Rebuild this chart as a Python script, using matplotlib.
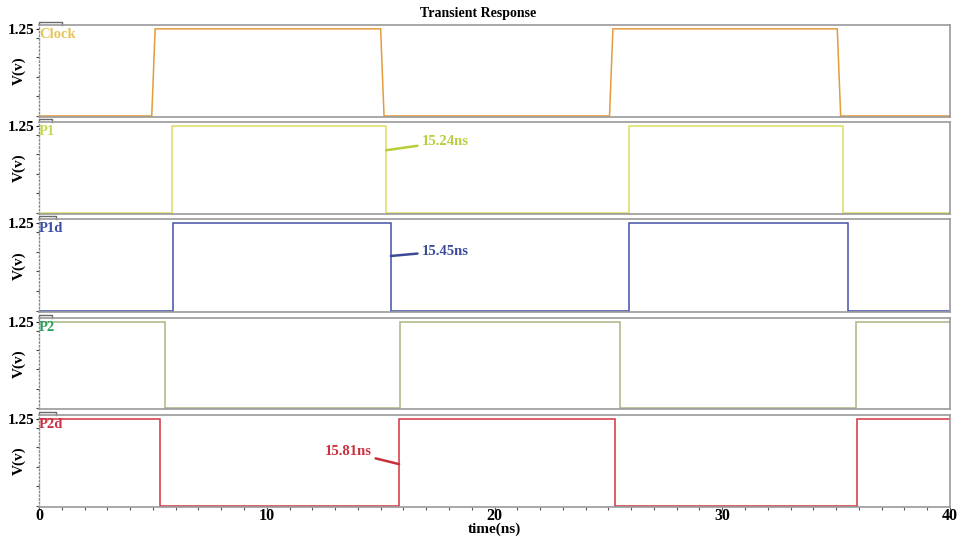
import numpy as np
import matplotlib
matplotlib.use("Agg")
import matplotlib.pyplot as plt
from matplotlib.lines import Line2D
from matplotlib.ticker import MultipleLocator, FixedLocator, NullLocator

plt.rcParams['font.family'] = ['Liberation Serif', 'DejaVu Serif']
plt.rcParams['font.weight'] = 'bold'

# ---- waveform data (time in ns, voltage in V) ----
VDD = 1.25
clock_t = [0, 4.95, 5.1, 15.0, 15.15, 25.05, 25.2, 35.05, 35.2, 40]
clock_v = [0, 0, VDD, VDD, 0, 0, VDD, VDD, 0, 0]

p1_edges = [5.86, 15.24, 25.9, 35.3]
p1d_edges = [5.88, 15.45, 25.92, 35.5]
p2_edges = [5.53, 15.84, 25.51, 35.86]
p2d_edges = [5.31, 15.81, 25.28, 35.9]

signal_names = ["Clock", "P1", "P1d", "P2", "P2d"]
start_levels = [0, 0, 0, VDD, VDD]

# measured delays shown next to the falling/rising edges
marker_times = [15.24, 15.45, 15.81]
marker_labels = ["15.24ns", "15.45ns", "15.81ns"]

x_ticks = [0, 10, 20, 30, 40]


def square_wave(edges, start, t_end=40):
    t = [0.0]
    v = [start]
    level = start
    for e in edges:
        t += [e, e]
        v += [level, VDD - level]
        level = VDD - level
    t.append(t_end)
    v.append(level)
    return t, v


waves = [(clock_t, clock_v)]
for edges, s in zip([p1_edges, p1d_edges, p2_edges, p2d_edges], start_levels[1:]):
    waves.append(square_wave(edges, s))

line_colors = ["#E39B3C", "#DCDC62", "#4350A8", "#A8B684", "#D2343E"]
label_colors = ["#E6C45A", "#C6D84C", "#3B4CA2", "#2E9E5C", "#C93242"]

W, H = 963, 537
fig = plt.figure(figsize=(W / 100, H / 100), dpi=100)

panel_tops = [25, 122, 219, 318, 415]
panel_bots = [117, 214, 312, 409, 507]
tab_ends = [62, 52, 56, 52, 56]
x_left, x_right = 39, 950

axes = []
for i, (top, bot) in enumerate(zip(panel_tops, panel_bots)):
    ax = fig.add_axes([x_left / W, 1 - bot / H, (x_right - x_left) / W, (bot - top) / H])
    t, v = waves[i]
    ax.plot(t, v, color=line_colors[i], lw=1.1, solid_joinstyle='miter')
    ax.set_xlim(0, 40)
    ax.set_ylim(-0.015, 1.305)

    for side in ["top", "right", "bottom"]:
        ax.spines[side].set_color("#9A9A9A")
        ax.spines[side].set_linewidth(1.2)
    ax.spines["left"].set_color("#8A8A8A")
    ax.spines["left"].set_linestyle(":")
    ax.spines["left"].set_linewidth(1.0)

    ax.yaxis.set_major_locator(FixedLocator([VDD]))
    ax.set_yticklabels(["1.25"], fontsize=11, fontweight='bold')
    ax.yaxis.set_minor_locator(MultipleLocator(0.28))
    ax.tick_params(axis='y', which='major', length=2, width=0.8, pad=1, colors='#222222', labelcolor='black')
    ax.tick_params(axis='y', which='minor', length=2, width=0.8, color='#444444')

    if i < 4:
        ax.xaxis.set_major_locator(NullLocator())
        ax.xaxis.set_minor_locator(NullLocator())
    else:
        ax.xaxis.set_major_locator(FixedLocator(x_ticks))
        ax.xaxis.set_minor_locator(MultipleLocator(1))
        ax.tick_params(axis='x', which='both', length=2, width=0.8, color='#555555', direction='out')
        ax.set_xticklabels([str(x) for x in x_ticks], fontsize=11.5, fontweight='bold')
        ax.tick_params(axis='x', pad=-1)

    ax.set_ylabel("V(v)", fontsize=11, fontweight='bold')
    ax.yaxis.set_label_coords(-13 / (x_right - x_left), 0.5)
    ax.text(0.0, 0.90, signal_names[i], transform=ax.transAxes, color=label_colors[i],
            fontsize=10.5, fontweight='bold', va='center', ha='left')

    # small tab on the upper-left corner of each panel frame
    tab_x = (tab_ends[i] - x_left) / (x_right - x_left)
    dy = 3.5 / (bot - top)
    ax.add_line(Line2D([0, 0, tab_x, tab_x], [1, 1 + dy, 1 + dy, 1], transform=ax.transAxes,
                       color="#6A6A6A", lw=1.0, clip_on=False))
    axes.append(ax)

# delay annotations
ann_specs = [
    (1, marker_times[0], 0.90, 16.8, 1.02, 'left'),
    (2, marker_times[1], 0.78, 16.8, 0.85, 'left'),
    (4, marker_times[2], 0.60, 14.6, 0.78, 'right'),
]
ann_colors = ["#B9CD36", "#3A4A98", "#C8303C"]
for (pi, xt, yv, tx, ty, ha), lbl, c in zip(ann_specs, marker_labels, ann_colors):
    ax = axes[pi]
    ax.annotate(lbl, xy=(xt, yv), xytext=(tx, ty), color=c, fontsize=10.5, fontweight='bold',
                ha=ha, va='center',
                arrowprops=dict(arrowstyle='-', color=c, lw=1.8, shrinkA=1, shrinkB=0))

axes[-1].set_xlabel("time(ns)", fontsize=11, fontweight='bold', labelpad=-1)

fig.text(0.496, 1 - 13 / H, "Transient Response", ha='center', va='center',
         fontsize=10, fontweight='bold')

fig.savefig("out.png", dpi=100, facecolor='white')
